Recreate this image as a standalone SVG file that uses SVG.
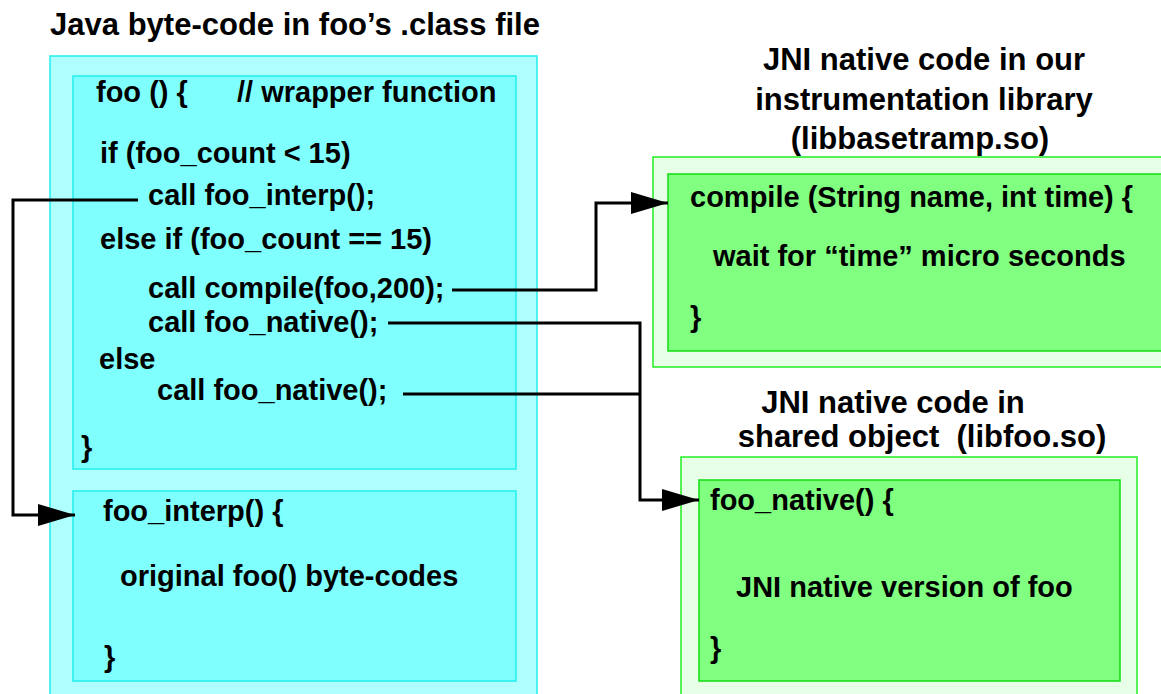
<svg xmlns="http://www.w3.org/2000/svg" width="1161" height="694" viewBox="0 0 1161 694">
<defs>
<style>
text{font-family:"Liberation Sans",Arial,Helvetica,sans-serif;font-weight:bold;fill:#000}
.code{font-size:29px}
.title{font-size:31px}
.cyo{fill:#B0FFFF;stroke:#22EEEE;stroke-width:1.5}
.cyi{fill:#80FFFF;stroke:#22EEEE;stroke-width:1.5}
.gro{fill:#E6FFE6;stroke:#22EE22;stroke-width:1.5}
.gri{fill:#80FF80;stroke:#11DD11;stroke-width:1.5}
.conn{fill:none;stroke:#000;stroke-width:3}
</style>
<marker id="arr" viewBox="0 0 37 22" markerWidth="37" markerHeight="22" refX="37" refY="11" orient="auto" markerUnits="userSpaceOnUse">
<path d="M0,0 L37,11 L0,22 z" fill="#000"/>
</marker>
</defs>
<rect width="1161" height="694" fill="#fff"/>

<g id="java-class">
<text class="title" x="295" y="35" text-anchor="middle">Java byte-code in foo’s .class file</text>
<rect class="cyo" x="50" y="56" width="487" height="650"/>
</g>

<g id="foo-wrapper">
<rect class="cyi" x="73" y="76" width="443" height="393"/>
<text class="code" x="96" y="102">foo () {</text>
<text class="code" x="237" y="102">// wrapper function</text>
<text class="code" x="100" y="163">if (foo_count &lt; 15)</text>
<text class="code" x="148" y="205">call foo_interp();</text>
<text class="code" x="100" y="249">else if (foo_count == 15)</text>
<text class="code" x="148" y="298">call compile(foo,200);</text>
<text class="code" x="148" y="332">call foo_native();</text>
<text class="code" x="99" y="369">else</text>
<text class="code" x="157" y="400">call foo_native();</text>
<text class="code" x="81" y="457">}</text>
</g>

<g id="foo-interp">
<rect class="cyi" x="73" y="491" width="443" height="190"/>
<text class="code" x="103" y="521">foo_interp() {</text>
<text class="code" x="120" y="586">original foo() byte-codes</text>
<text class="code" x="104" y="667">}</text>
</g>

<g id="libbasetramp">
<text class="title" x="924" y="70" text-anchor="middle">JNI native code in our</text>
<text class="title" x="924" y="110" text-anchor="middle">instrumentation library</text>
<text class="title" x="920" y="149" text-anchor="middle">(libbasetramp.so)</text>
<rect class="gro" x="653" y="157" width="520" height="210"/>
<rect class="gri" x="668" y="174" width="505" height="177"/>
<text class="code" x="690" y="207">compile (String name, int time) {</text>
<text class="code" x="713" y="266">wait for “time” micro seconds</text>
<text class="code" x="690" y="327">}</text>
</g>

<g id="libfoo">
<text class="title" x="893" y="413" text-anchor="middle">JNI native code in</text>
<text class="title" x="922" y="447" text-anchor="middle" xml:space="preserve" style="white-space:pre">shared object  (libfoo.so)</text>
<rect class="gro" x="681" y="457" width="456" height="250"/>
<rect class="gri" x="699" y="480" width="421" height="201"/>
<text class="code" x="710" y="510">foo_native() {</text>
<text class="code" x="736" y="597">JNI native version of foo</text>
<text class="code" x="710" y="658">}</text>
</g>

<g id="connectors">
<path class="conn" d="M138,200 H13 V515 H75" marker-end="url(#arr)"/>
<path class="conn" d="M452,290 H596 V203 H668" marker-end="url(#arr)"/>
<path class="conn" d="M388,323 H640 V500 H699" marker-end="url(#arr)"/>
<path class="conn" d="M403,394 H640"/>
</g>
</svg>
